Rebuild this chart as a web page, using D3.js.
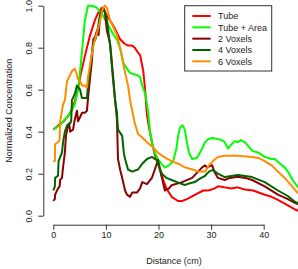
<!DOCTYPE html>
<html>
<head>
<meta charset="utf-8">
<script src="https://cdn.jsdelivr.net/npm/d3@7"></script>
<style>
  body { margin: 0; background: #fff; }
  text { font-family: "Liberation Sans", Arial, sans-serif; fill: #222; }
</style>
</head>
<body>
<div id="chart"></div>
<script>
// [distance (cm), normalized concentration]
var tube = [[0,0.41],[1,0.43],[2,0.45],[3,0.48],[3.8,0.52],[4.5,0.58],[5.1,0.66],[6,0.76],[7,0.86],[7.9,0.93],[8.6,0.97],[9.2,0.99],[9.6,0.985],[10.2,0.95],[10.8,0.93],[11.5,0.90],[12.1,0.87],[12.7,0.84],[13.5,0.82],[14.2,0.81],[15,0.81],[15.5,0.80],[16,0.78],[16.5,0.765],[17.1,0.69],[17.45,0.60],[17.8,0.48],[18.2,0.42],[18.75,0.35],[19.3,0.29],[19.9,0.25],[20.6,0.19],[21.5,0.13],[22.5,0.09],[23.7,0.07],[24.5,0.07],[25.5,0.08],[27,0.10],[28.5,0.12],[29.5,0.12],[30.7,0.13],[31.3,0.14],[32.5,0.135],[33.9,0.13],[35,0.135],[36.4,0.125],[38,0.12],[40.2,0.10],[41.5,0.09],[42.7,0.075],[44.5,0.05],[46.2,0.027],[47.5,0.015]];
var tubeArea = [[0,0.41],[0.6,0.42],[1.3,0.43],[1.85,0.45],[2.6,0.47],[3.5,0.50],[4.1,0.53],[4.7,0.60],[5.1,0.69],[5.6,0.82],[6,0.93],[6.6,1.0],[7.2,1.0],[7.9,0.995],[8.3,0.99],[8.6,0.98],[9.5,0.95],[10.2,0.92],[10.8,0.89],[11.5,0.86],[12.1,0.84],[12.5,0.81],[12.9,0.78],[13.3,0.73],[14,0.70],[14.6,0.68],[15.2,0.675],[15.9,0.67],[16.5,0.66],[16.9,0.62],[17.5,0.58],[18,0.50],[18.4,0.40],[18.75,0.35],[19.3,0.30],[19.9,0.27],[20.6,0.245],[21.2,0.23],[22,0.24],[22.8,0.26],[23.4,0.32],[23.8,0.39],[24.1,0.42],[24.6,0.43],[25,0.41],[25.4,0.35],[25.8,0.30],[26.4,0.27],[27.3,0.275],[28.3,0.32],[28.85,0.35],[29.5,0.365],[30.2,0.37],[31.3,0.365],[32,0.36],[32.6,0.35],[33.2,0.32],[33.9,0.34],[34.5,0.355],[35.1,0.35],[35.6,0.36],[36.4,0.35],[37.1,0.33],[37.8,0.31],[39,0.30],[40.2,0.28],[41.5,0.27],[42.1,0.27],[43,0.25],[44,0.23],[44.6,0.21],[45.5,0.17],[46.4,0.14],[47.5,0.11]];
var vox2 = [[0,0.07],[0.3,0.08],[0.35,0.10],[0.9,0.13],[1.2,0.14],[1.3,0.17],[1.65,0.18],[1.85,0.23],[2.2,0.30],[2.4,0.38],[2.8,0.43],[3,0.44],[3.2,0.40],[3.75,0.41],[4.1,0.46],[4.5,0.50],[4.7,0.45],[5.1,0.47],[5.45,0.49],[6,0.49],[6.4,0.50],[6.6,0.56],[7,0.66],[7.35,0.74],[7.6,0.84],[7.9,0.85],[8.3,0.88],[8.6,0.86],[8.9,0.95],[9.45,0.99],[9.8,0.97],[10.2,0.88],[10.8,0.82],[11.35,0.67],[11.75,0.55],[12.1,0.46],[12.3,0.27],[12.7,0.22],[13.1,0.18],[13.65,0.12],[14,0.10],[14.6,0.09],[15,0.11],[15.9,0.11],[16.5,0.13],[16.9,0.16],[17.8,0.15],[18.75,0.18],[19.3,0.22],[19.7,0.25],[19.9,0.265],[20.3,0.22],[20.65,0.18],[21.2,0.12],[22,0.13],[22.5,0.145],[24.5,0.16],[26.4,0.18],[28.3,0.23],[28.85,0.24],[29.2,0.23],[30.2,0.24],[30.6,0.21],[31.3,0.18],[32.6,0.17],[33.5,0.18],[35.1,0.185],[36.5,0.18],[37.8,0.17],[40.2,0.14],[42.7,0.10],[44.5,0.08],[46,0.06],[47.5,0.045]];
var vox4 = [[0,0.12],[0.3,0.14],[0.35,0.18],[0.9,0.19],[1,0.26],[1.65,0.30],[1.85,0.35],[2.2,0.40],[2.6,0.43],[3.2,0.44],[3.4,0.45],[3.55,0.55],[4.1,0.58],[4.5,0.62],[5.1,0.60],[5.45,0.56],[6,0.56],[6.4,0.56],[6.6,0.62],[7,0.70],[7.55,0.82],[8,0.84],[8.3,0.87],[8.9,0.96],[9.45,0.98],[9.8,0.97],[10.2,0.93],[10.8,0.81],[11.35,0.65],[11.75,0.55],[12.1,0.49],[12.3,0.41],[13.1,0.38],[13.4,0.30],[13.65,0.27],[14.2,0.22],[15,0.21],[16.1,0.22],[17,0.25],[17.8,0.27],[18.75,0.28],[19.3,0.27],[19.7,0.265],[20.3,0.22],[20.65,0.20],[21.5,0.18],[22.5,0.17],[24,0.155],[25,0.146],[26,0.155],[26.9,0.16],[27.8,0.175],[28.85,0.19],[29.6,0.21],[30.35,0.218],[31.3,0.20],[32.6,0.184],[35.1,0.194],[37.8,0.184],[40.2,0.16],[42.7,0.12],[44.5,0.095],[46,0.065],[47.5,0.05]];
var vox6 = [[0,0.26],[0.3,0.26],[0.35,0.34],[0.9,0.35],[1.2,0.36],[1.3,0.45],[1.85,0.53],[2.2,0.55],[2.6,0.64],[3.2,0.67],[3.6,0.69],[4.1,0.70],[4.5,0.67],[4.7,0.65],[5.1,0.64],[5.45,0.62],[6,0.62],[6.4,0.61],[6.6,0.66],[7,0.72],[7.55,0.80],[7.9,0.84],[8.3,0.87],[8.9,0.93],[9.45,0.99],[9.8,1.0],[10.2,0.99],[10.8,0.93],[11.35,0.90],[12.1,0.86],[12.7,0.80],[13.25,0.73],[13.65,0.68],[14.2,0.62],[14.6,0.55],[15,0.50],[15.5,0.44],[16.1,0.39],[17,0.37],[17.8,0.35],[18.75,0.33],[19.9,0.30],[21,0.28],[22.5,0.26],[24,0.245],[25,0.23],[26.5,0.22],[27.5,0.21],[28.85,0.21],[29.6,0.24],[30.35,0.26],[31.3,0.28],[32.6,0.285],[35.1,0.285],[37.8,0.28],[39,0.275],[40.2,0.26],[41.5,0.24],[42.7,0.21],[44,0.18],[45.4,0.14],[46.4,0.11],[47.5,0.09]];

var seriesNames = ["Tube", "Tube + Area", "2 Voxels", "4 Voxels", "6 Voxels"];
var seriesColors = ["#ff0000", "#00ff00", "#8b0000", "#006400", "#ff8c00"];
var xTicks = [0, 10, 20, 30, 40];
var yTicks = [0, 0.2, 0.4, 0.6, 0.8, 1.0];

var W = 298, H = 269;
var svg = d3.select("#chart").append("svg").attr("width", W).attr("height", H);

var x = d3.scaleLinear().domain([0, 40]).range([53.3, 263.7]);
var y = d3.scaleLinear().domain([0, 1]).range([215.7, 5.7]);

// x axis
var gx = svg.append("g").attr("transform", "translate(0,224.7)")
    .call(d3.axisBottom(x).tickValues(xTicks).tickSizeOuter(0).tickSizeInner(5).tickPadding(3).tickFormat(d3.format("d")));
gx.selectAll("text").attr("y", 13).attr("dy", 0).style("font-size", "9px");

// y axis, labels rotated like R
var gy = svg.append("g").attr("transform", "translate(43.3,0)")
    .call(d3.axisLeft(y).tickValues(yTicks).tickSizeOuter(0).tickSizeInner(5).tickFormat(d3.format(".1f")));
gy.selectAll(".tick text")
    .attr("x", null).attr("dy", null)
    .attr("text-anchor", "middle")
    .attr("transform", "translate(-11,0) rotate(-90)")
    .style("font-size", "9px");
svg.selectAll(".domain, .tick line").attr("stroke", "#333").attr("stroke-width", 1);

svg.append("text").attr("x", 174).attr("y", 264).attr("text-anchor", "middle")
    .style("font-size", "9px").text("Distance (cm)");
svg.append("text").attr("transform", "translate(12,110.7) rotate(-90)").attr("text-anchor", "middle")
    .style("font-size", "9px").text("Normalized Concentration");

// curves
var line = d3.line().x(function(d){ return x(d[0]); }).y(function(d){ return y(d[1]); });
[tube, tubeArea, vox2, vox4, vox6].forEach(function(s, i){
    svg.append("path").datum(s).attr("d", line)
        .attr("fill", "none").attr("stroke", seriesColors[i])
        .attr("stroke-width", 2).attr("stroke-linejoin", "round");
});

// legend
var leg = svg.append("g");
leg.append("rect").attr("x", 184.7).attr("y", 5.7).attr("width", 87).attr("height", 65.3)
    .attr("fill", "#fff").attr("stroke", "#333").attr("stroke-width", 1);
seriesNames.forEach(function(n, i){
    var cy = 16 + i * 11.33;
    leg.append("line").attr("x1", 192.3).attr("x2", 210.7).attr("y1", cy).attr("y2", cy)
        .attr("stroke", seriesColors[i]).attr("stroke-width", 2);
    leg.append("text").attr("x", 218).attr("y", cy + 3.2).style("font-size", "9px").text(n);
});
</script>
</body>
</html>
